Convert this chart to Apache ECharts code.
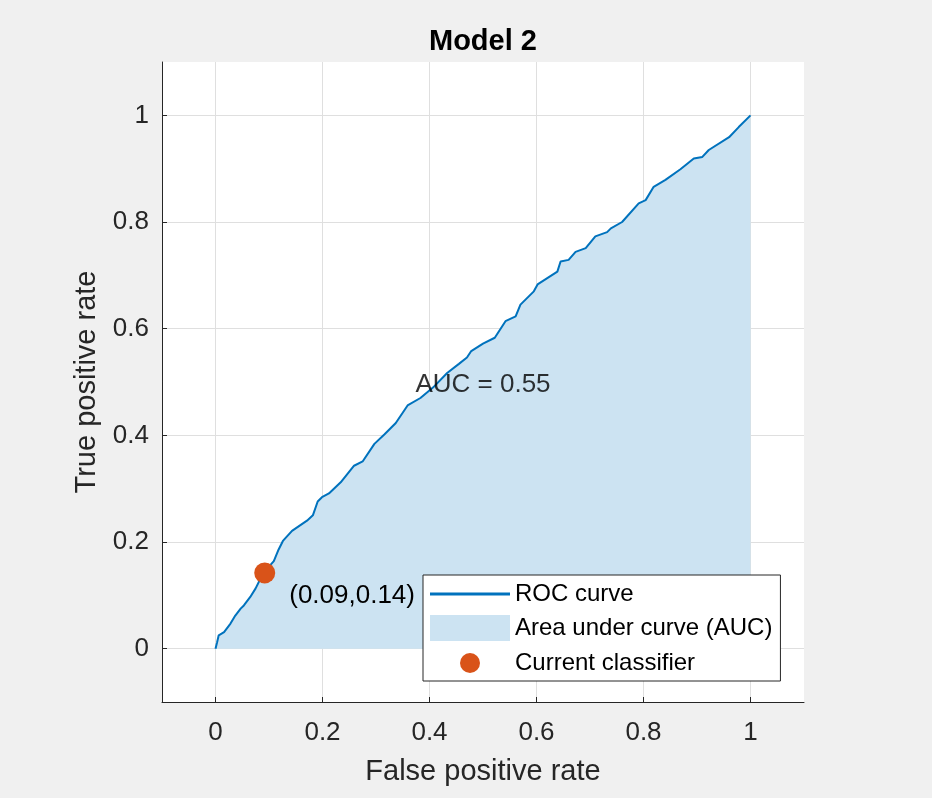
<!DOCTYPE html>
<html>
<head>
    <meta charset="utf-8">
    <title>Model 2</title>
    <style>
        html, body { margin: 0; padding: 0; background-color: #f0f0f0; }
        #charts { width: 932px; height: 798px; }
    </style>
    <script type="text/javascript" src="https://cdn.jsdelivr.net/npm/echarts@6/dist/echarts.min.js"></script>
</head>
<body>
<div id="charts"></div>
<script type="text/javascript">
// ROC curve points
var rocFpr = [0, 0.003, 0.006, 0.016, 0.028, 0.037, 0.047, 0.053, 0.065, 0.075, 0.084, 0.092,
    0.109, 0.118, 0.126, 0.143, 0.171, 0.182, 0.191, 0.199, 0.212, 0.234, 0.259, 0.275,
    0.297, 0.316, 0.337, 0.359, 0.383, 0.407, 0.433, 0.455, 0.470, 0.478, 0.500, 0.522,
    0.542, 0.561, 0.570, 0.595, 0.602, 0.639, 0.645, 0.660, 0.673, 0.692, 0.710, 0.732,
    0.739, 0.760, 0.791, 0.804, 0.819, 0.841, 0.869, 0.894, 0.910, 0.922, 0.960, 0.978, 1];
var rocTpr = [0, 0.012, 0.025, 0.031, 0.047, 0.062, 0.075, 0.081, 0.097, 0.113, 0.131, 0.145,
    0.164, 0.186, 0.202, 0.221, 0.240, 0.250, 0.276, 0.284, 0.291, 0.312, 0.343, 0.351,
    0.384, 0.402, 0.423, 0.456, 0.470, 0.490, 0.517, 0.534, 0.546, 0.558, 0.572, 0.583,
    0.614, 0.623, 0.645, 0.670, 0.683, 0.707, 0.726, 0.729, 0.744, 0.751, 0.773, 0.781,
    0.788, 0.800, 0.835, 0.841, 0.866, 0.879, 0.899, 0.919, 0.922, 0.935, 0.959, 0.978, 1];

var classifierPoint = [0.092, 0.142];
var aucValue = 0.55;
var aucTextPos = [0.5, 0.5];

var xTicks = [0, 0.2, 0.4, 0.6, 0.8, 1];
var yTicks = [0, 0.2, 0.4, 0.6, 0.8, 1];

var legendNames = ['ROC curve', 'Area under curve (AUC)', 'Current classifier'];

var fontFam = '"Liberation Sans", Arial, Helvetica, sans-serif';
var axisColor = '#262626';

var rocData = [];
for (var i = 0; i < rocFpr.length; i++) {
    rocData.push([rocFpr[i], rocTpr[i]]);
}

var myChart = echarts.init(document.getElementById('charts'));

function makeAxis(ticks, name, isX) {
    return {
        type: 'value',
        min: -0.1,
        max: 1.1,
        name: name,
        nameLocation: 'middle',
        nameGap: isX ? 55 : 54,
        nameRotate: isX ? 0 : 90,
        nameTextStyle: { fontFamily: fontFam, fontSize: 29, color: axisColor },
        axisLine: { show: true, onZero: false, lineStyle: { color: axisColor, width: 1 } },
        axisTick: { show: true, inside: true, length: 5, customValues: ticks,
            lineStyle: { color: axisColor, width: 1 } },
        axisLabel: { customValues: ticks, margin: isX ? 18 : 13,
            fontFamily: fontFam, fontSize: 26, color: axisColor,
            formatter: function (v) { return String(v); } },
        splitLine: { show: true, lineStyle: { color: '#dfdfdf', width: 1 } }
    };
}

var option = {
    animation: false,
    backgroundColor: '#f0f0f0',
    title: {
        text: 'Model 2',
        left: 429,
        top: 27,
        padding: 0,
        textStyle: { fontFamily: fontFam, fontSize: 29, fontWeight: 'bold', color: '#000' }
    },
    grid: {
        left: 162,
        right: 128,
        top: 62,
        bottom: 96,
        show: true,
        backgroundColor: '#fff',
        borderWidth: 0,
        containLabel: false
    },
    legend: {
        orient: 'vertical',
        left: 423,
        top: 575,
        padding: [7, 8, 5, 7],
        itemWidth: 80,
        itemHeight: 26,
        itemGap: 9,
        backgroundColor: '#fff',
        borderColor: axisColor,
        borderWidth: 1,
        borderRadius: 0,
        selectedMode: false,
        textStyle: { fontFamily: fontFam, fontSize: 24, color: '#000' },
        data: [
            { name: legendNames[0], icon: 'path://M0,0H80V3H0Z', itemStyle: { color: '#0072BD' } },
            { name: legendNames[1], icon: 'rect', itemStyle: { color: '#cce3f2', borderWidth: 0 } },
            { name: legendNames[2], icon: 'path://M0,0M26,26M3,13A10,10,0,1,1,23,13A10,10,0,1,1,3,13Z',
                itemStyle: { color: '#D95319' } }
        ]
    },
    xAxis: makeAxis(xTicks, 'False positive rate', true),
    yAxis: makeAxis(yTicks, 'True positive rate', false),
    series: [
        {
            name: legendNames[1],
            type: 'line',
            data: rocData,
            symbol: 'none',
            z: 1,
            itemStyle: { color: '#cce3f2' },
            lineStyle: { width: 0 },
            areaStyle: { color: '#cce3f2', opacity: 1 }
        },
        {
            name: legendNames[0],
            type: 'line',
            data: rocData,
            symbol: 'none',
            z: 2,
            itemStyle: { color: '#0072BD' },
            lineStyle: { color: '#0072BD', width: 2 }
        },
        {
            name: legendNames[2],
            type: 'scatter',
            data: [classifierPoint],
            symbol: 'circle',
            symbolSize: 21,
            z: 3,
            itemStyle: { color: '#D95319', opacity: 1 },
            label: {
                show: true,
                position: 'right',
                distance: 14,
                offset: [0, 23],
                fontFamily: fontFam,
                fontSize: 26,
                color: '#000',
                formatter: function (p) {
                    return '(' + p.value[0].toFixed(2) + ',' + p.value[1].toFixed(2) + ')';
                }
            }
        },
        {
            name: 'AUC text',
            type: 'scatter',
            data: [aucTextPos],
            symbolSize: 0,
            z: 4,
            silent: true,
            label: {
                show: true,
                position: 'inside',
                offset: [0, 3],
                fontFamily: fontFam,
                fontSize: 26,
                color: '#000',
                formatter: 'AUC = ' + aucValue.toFixed(2)
            }
        }
    ]
};

myChart.setOption(option);
</script>
</body>
</html>
